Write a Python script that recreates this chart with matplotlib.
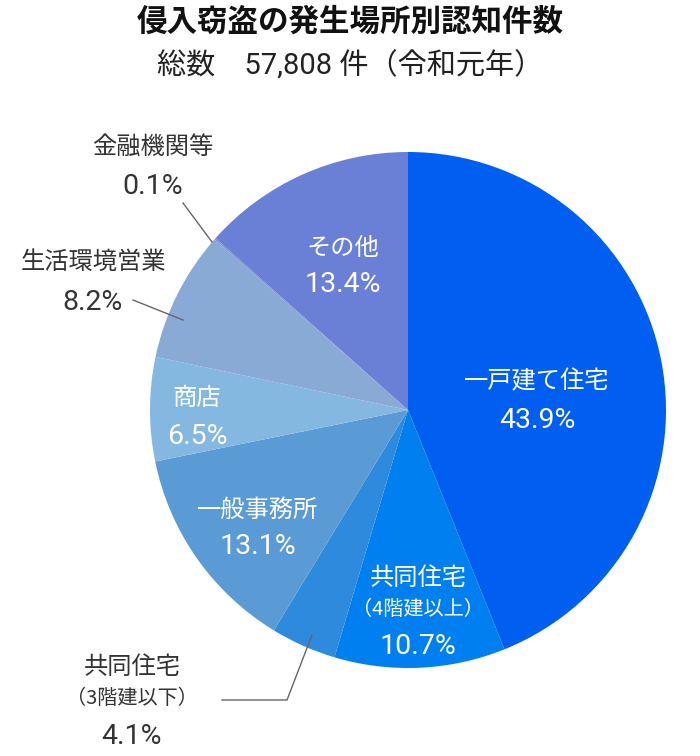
import matplotlib
matplotlib.use("Agg")
import matplotlib.pyplot as plt

plt.rcParams['font.family'] = ['Noto Sans CJK JP', 'DejaVu Sans']
NUMF = ['Roboto', 'Noto Sans CJK JP']

# 侵入窃盗の発生場所別認知件数（令和元年）
names = ['一戸建て住宅', '共同住宅\n（4階建以上）', '共同住宅\n（3階建以下）', '一般事務所',
         '商店', '生活環境営業', '金融機関等', 'その他']
shares = [43.9, 10.7, 4.1, 13.1, 6.5, 8.2, 0.1, 13.4]
colors = ['#005ef0', '#0080f0', '#2e8add', '#5b9bd5',
          '#85b8e0', '#8aaad6', '#7a95d6', '#6a80d6']

fig = plt.figure(figsize=(7, 7.56), dpi=100)
ax = fig.add_axes([0, 0, 1, 1])

# y軸が下向きなので counterclock=True で見た目は時計回り
ax.pie(shares, colors=colors, startangle=-90, counterclock=True,
       center=(408, 410), radius=258, frame=True,
       wedgeprops=dict(linewidth=0))
ax.set_xlim(0, 700)
ax.set_ylim(756, 0)
ax.set_aspect('equal')
ax.axis('off')

fig.text(0.5, 1 - 22 / 756, '侵入窃盗の発生場所別認知件数', ha='center', va='center',
         fontsize=22, fontweight='bold', color='#111111')
fig.text(0.5, 1 - 66 / 756, '総数　57,808 件（令和元年）', ha='center', va='center',
         fontsize=21, color='#222222', family=NUMF)

# ラベル位置（ピクセル）: (名前x, 名前y, 数値y, 内側か)
pos = {
    '一戸建て住宅': (537, 381, 420, True),
    '共同住宅\n（4階建以上）': (418, 578, 646, True),
    '一般事務所': (258, 510, 546, True),
    '商店': (197, 398, 436, True),
    'その他': (343, 248, 285, True),
    '生活環境営業': (93, 262, 302, False),
    '金融機関等': (153, 147, 187, False),
    '共同住宅\n（3階建以下）': (132, 667, 737, False),
}
for n, s in zip(names, shares):
    x, yn, yp, inside = pos[n]
    c = 'white' if inside else '#333333'
    if '\n' in n:
        top, sub = n.split('\n')
        ax.text(x, yn, top, ha='center', va='center', fontsize=17.5, color=c)
        ax.text(x, yn + 31, sub, ha='center', va='center', fontsize=14.5, color=c)
    else:
        ax.text(x, yn, n, ha='center', va='center', fontsize=17.5, color=c)
    ax.text(x, yp, f'{s}%', ha='center', va='center', fontsize=20.5,
            color=c, family=NUMF)

# 引き出し線
lc = '#666666'
ax.plot([183, 212], [203, 242], color=lc, lw=1)
ax.plot([133, 183], [300, 320], color=lc, lw=1)
ax.plot([222, 287, 312], [700, 700, 635], color=lc, lw=1)

fig.savefig('out.png', dpi=100)
